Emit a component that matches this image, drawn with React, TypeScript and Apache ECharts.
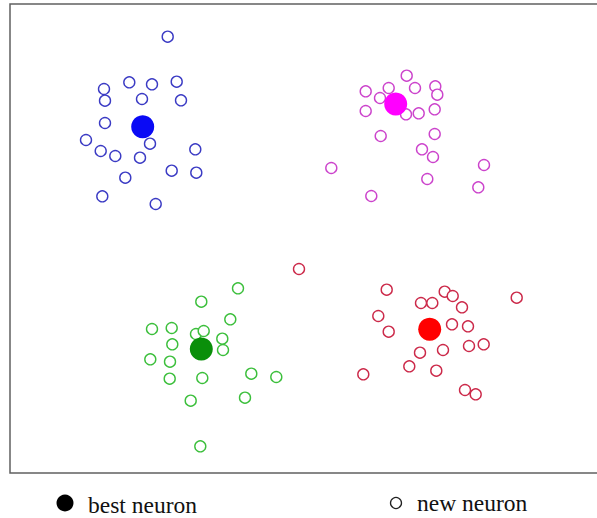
import React, { useEffect, useRef } from "react";
import * as echarts from "echarts";

const blueNew: [number, number][] = [
  [167.7, 36.7], [104, 89], [129.3, 82.3], [152, 84.3], [176.7, 81.7], [105, 100.7],
  [142, 99], [181, 100.3], [105, 123], [86, 140], [150, 143.7], [195.3, 149.3],
  [100.7, 151], [115.3, 156], [140, 157.7], [171.7, 170.7], [196.3, 172.7],
  [125.3, 177.7], [102.3, 196.3], [155.7, 204],
];
const blueBest: [number, number] = [142.7, 126.7];

const magentaNew: [number, number][] = [
  [406.7, 75.7], [365.7, 91.3], [388.7, 88], [415, 88], [435.3, 86.3], [437.3, 94.7],
  [380, 98], [365.7, 111], [406, 114.3], [418.7, 113.3], [434.7, 109.3], [434.7, 134],
  [380.7, 136], [422, 149.3], [433, 157], [331.3, 168], [484, 165], [427.3, 179],
  [478.3, 187.3], [371.3, 196],
];
const magentaBest: [number, number] = [395.7, 104];

const greenNew: [number, number][] = [
  [238, 288.3], [201.3, 301.7], [230.3, 319.3], [152, 329], [171.7, 328], [196, 334],
  [203.7, 331], [222.3, 338.7], [172.3, 344.3], [223, 350], [150.3, 359.3],
  [170, 361.7], [169.7, 378.7], [202.3, 378], [251.3, 373.7], [276.3, 377],
  [190.7, 400.7], [245, 397.7], [200.3, 446.3],
];
const greenBest: [number, number] = [201.3, 349];

const redNew: [number, number][] = [
  [299, 269], [386.7, 289.7], [444.7, 291.7], [452.7, 296], [421, 303], [432.3, 303],
  [462, 307.3], [516.7, 297.7], [378.3, 316], [452, 324.3], [468, 326.3],
  [388.7, 331.7], [469, 346], [483.7, 344.3], [420, 352.7], [443, 350],
  [409.3, 366.3], [436.3, 370.7], [363.3, 374.3], [465, 390], [475.7, 394.3],
];
const redBest: [number, number] = [429.7, 329.3];

const legendLabels = ["best neuron", "new neuron"];

const clusters = [
  { name: "blue", pts: blueNew, best: blueBest, ring: "#3b3bc4", fill: "#0a0af5" },
  { name: "magenta", pts: magentaNew, best: magentaBest, ring: "#cc44cc", fill: "#ff00ff" },
  { name: "green", pts: greenNew, best: greenBest, ring: "#3cbf3c", fill: "#0a8f0a" },
  { name: "red", pts: redNew, best: redBest, ring: "#cc2a4a", fill: "#ff0000" },
];

export default function App() {
  const ref = useRef<HTMLDivElement>(null);
  useEffect(() => {
    if (!ref.current) return;
    const chart = echarts.init(ref.current, undefined, { renderer: "svg" });
    const series: any[] = [];
    clusters.forEach((c) => {
      series.push({
        name: c.name + " new",
        type: "scatter",
        data: c.pts,
        symbol: "circle",
        symbolSize: 11,
        itemStyle: { color: "#ffffff", borderColor: c.ring, borderWidth: 1.4, opacity: 1 },
        silent: true,
        z: 2,
      });
      series.push({
        name: c.name + " best",
        type: "scatter",
        data: [c.best],
        symbol: "circle",
        symbolSize: 23,
        itemStyle: { color: c.fill, opacity: 1 },
        silent: true,
        z: 3,
      });
    });
    const font = "23.5px 'Liberation Serif', 'Times New Roman', serif";
    chart.setOption({
      animation: false,
      backgroundColor: "#ffffff",
      grid: { left: 10, top: 4, right: 0, bottom: 45, show: false },
      xAxis: { type: "value", min: 10, max: 597, show: false },
      yAxis: { type: "value", min: 4, max: 473, inverse: true, show: false },
      series,
      graphic: [
        {
          type: "rect",
          shape: { x: 10, y: 4, width: 600, height: 469 },
          style: { fill: "none", stroke: "#606060", lineWidth: 1.5 },
          z: 0,
        },
        { type: "circle", shape: { cx: 65, cy: 503, r: 8.5 }, style: { fill: "#000000" } },
        {
          type: "text",
          x: 88,
          y: 505,
          style: {
            text: legendLabels[0],
            font,
            fill: "#111111",
            verticalAlign: "middle",
          },
        },
        {
          type: "circle",
          shape: { cx: 396, cy: 503, r: 5.5 },
          style: { fill: "#ffffff", stroke: "#222222", lineWidth: 1.3 },
        },
        {
          type: "text",
          x: 417,
          y: 503,
          style: {
            text: legendLabels[1],
            font,
            fill: "#111111",
            verticalAlign: "middle",
          },
        },
      ],
    });
    return () => chart.dispose();
  }, []);
  return (
    <div
      ref={ref}
      style={{ position: "fixed", left: 0, top: 0, width: 597, height: 518, background: "#fff" }}
    />
  );
}
